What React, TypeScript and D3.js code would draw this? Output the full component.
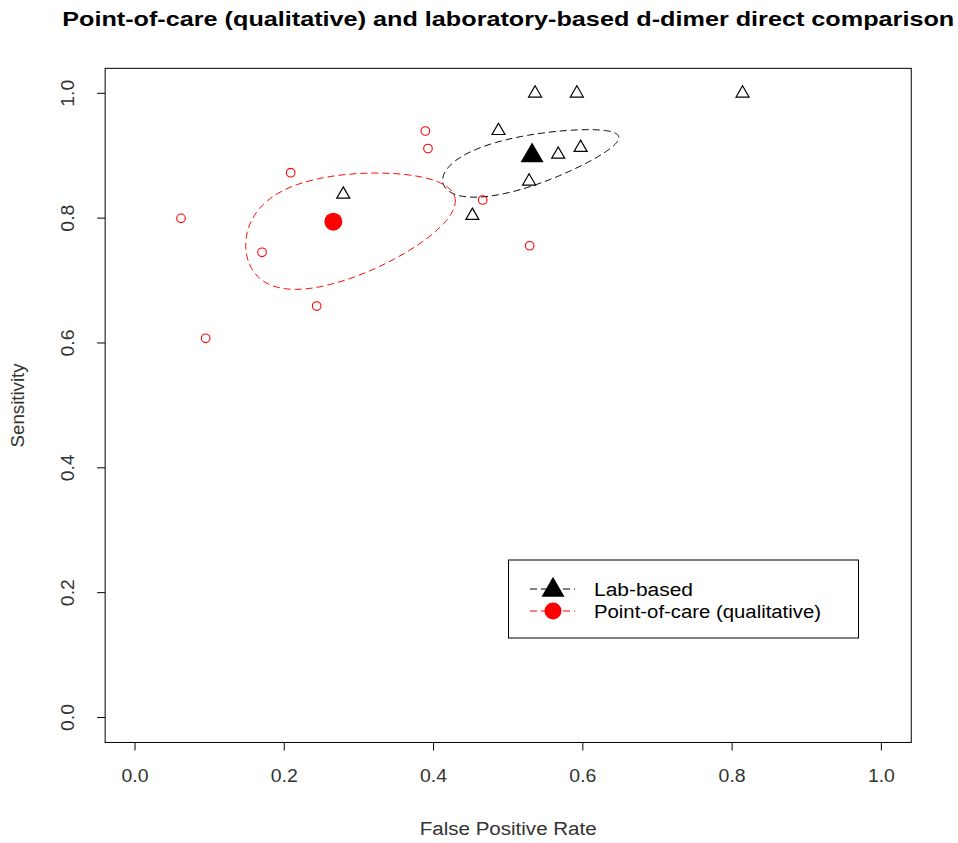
import React from "react";
import * as d3 from "d3";

// ---- data ----
const labFPR = [0.536, 0.592, 0.814, 0.487, 0.567, 0.597, 0.528, 0.452, 0.279];
const labSens = [1.0, 1.0, 1.0, 0.94, 0.902, 0.913, 0.859, 0.804, 0.838];
const pocFPR = [0.389, 0.3925, 0.2086, 0.0616, 0.1702, 0.2434, 0.0947, 0.4658, 0.5288];
const pocSens = [0.9396, 0.9116, 0.8728, 0.7997, 0.7453, 0.6592, 0.6075, 0.8291, 0.7558];
const labSummary = [0.532, 0.9];
const pocSummary = [0.2657, 0.7943];
// confidence regions in logit space: [half-extent logit FPR, half-extent logit Sens, correlation]
const labRegion = [0.483, 0.586, 0.64];
const pocRegion = [0.731, 0.57, 0.38];
const xTicks = [0, 0.2, 0.4, 0.6, 0.8, 1.0];
const yTicks = [0, 0.2, 0.4, 0.6, 0.8, 1.0];
const legendLabels = ["Lab-based", "Point-of-care (qualitative)"];
const legendWidths = [99, 227];

const W = 958;
const H = 843;
const FONT = "'Liberation Sans', Arial, sans-serif";

const x = d3.scaleLinear().domain([0, 1]).range([135, 881.4]);
const y = d3.scaleLinear().domain([0, 1]).range([717.5, 93.3]);
const box = { x0: x(-0.04), x1: x(1.04), y0: y(1.04), y1: y(-0.04) };

const logit = (p: number) => Math.log(p / (1 - p));
const expit = (v: number) => 1 / (1 + Math.exp(-v));

function regionPath(center: number[], reg: number[]) {
  const [sx, sy, rho] = reg;
  const cx = logit(center[0]);
  const cy = logit(center[1]);
  const n = 240;
  const pts: [number, number][] = d3.range(n + 1).map((i) => {
    const t = (i / n) * 2 * Math.PI;
    const lx = cx + sx * Math.cos(t);
    const ly = cy + sy * (rho * Math.cos(t) + Math.sqrt(1 - rho * rho) * Math.sin(t));
    return [x(expit(lx)), y(expit(ly))];
  });
  return d3.line()(pts) as string;
}

function tri(cx: number, cy: number, s: number) {
  const h = (s * Math.sqrt(3)) / 2;
  return `M${cx},${cy - (2 * h) / 3}L${cx + s / 2},${cy + h / 3}L${cx - s / 2},${cy + h / 3}Z`;
}

export default function App() {
  const lgX0 = 508.5;
  const lgY0 = 560;
  return (
    <svg width={W} height={H} style={{ display: "block", position: "absolute", left: 0, top: 0 }} fontFamily={FONT}>
      <rect x={0} y={0} width={W} height={H} fill="white" />
      <text
        x={(box.x0 + box.x1) / 2}
        y={26}
        textAnchor="middle"
        fontWeight="bold"
        fontSize={21}
        fill="#000"
        textLength={892}
        lengthAdjust="spacingAndGlyphs"
      >
        Point-of-care (qualitative) and laboratory-based d-dimer direct comparison
      </text>
      <rect x={box.x0} y={box.y0} width={box.x1 - box.x0} height={box.y1 - box.y0} fill="none" stroke="#000" strokeWidth={1} />
      {/* x axis */}
      <g>
        {xTicks.map((t) => (
          <g key={"x" + t}>
            <line x1={x(t)} x2={x(t)} y1={box.y1} y2={box.y1 + 8} stroke="#000" />
            <text x={x(t)} y={782} textAnchor="middle" fontSize={18} fill="#333" textLength={27} lengthAdjust="spacingAndGlyphs">
              {t.toFixed(1)}
            </text>
          </g>
        ))}
        <text
          x={(box.x0 + box.x1) / 2}
          y={835}
          textAnchor="middle"
          fontSize={18}
          fill="#333"
          textLength={177}
          lengthAdjust="spacingAndGlyphs"
        >
          False Positive Rate
        </text>
      </g>
      {/* y axis */}
      <g>
        {yTicks.map((t) => (
          <g key={"y" + t}>
            <line x1={box.x0} x2={box.x0 - 8} y1={y(t)} y2={y(t)} stroke="#000" />
            <text
              transform={`translate(74,${y(t)}) rotate(-90)`}
              textAnchor="middle"
              fontSize={18}
              fill="#333"
              textLength={27}
              lengthAdjust="spacingAndGlyphs"
            >
              {t.toFixed(1)}
            </text>
          </g>
        ))}
        <text
          transform={`translate(24,${(box.y0 + box.y1) / 2}) rotate(-90)`}
          textAnchor="middle"
          fontSize={18}
          fill="#333"
          textLength={84}
          lengthAdjust="spacingAndGlyphs"
        >
          Sensitivity
        </text>
      </g>
      {/* confidence regions */}
      <path d={regionPath(pocSummary, pocRegion)} fill="none" stroke="#ff0000" strokeWidth={1} strokeDasharray="7,4" />
      <path d={regionPath(labSummary, labRegion)} fill="none" stroke="#000" strokeWidth={1} strokeDasharray="7,4" />
      {/* study points */}
      {pocFPR.map((f, i) => (
        <circle key={"p" + i} cx={x(f)} cy={y(pocSens[i])} r={4.3} fill="none" stroke="#ff0000" strokeWidth={1.1} />
      ))}
      {labFPR.map((f, i) => (
        <path key={"l" + i} d={tri(x(f), y(labSens[i]), 13)} fill="none" stroke="#000" strokeWidth={1.2} />
      ))}
      {/* summary points */}
      <path d={tri(x(labSummary[0]), y(labSummary[1]), 23)} fill="#000" />
      <circle cx={x(pocSummary[0])} cy={y(pocSummary[1])} r={9} fill="#ff0000" />
      {/* legend */}
      <g>
        <rect x={lgX0} y={lgY0} width={350} height={78} fill="white" stroke="#000" />
        {legendLabels.map((lab, i) => {
          const cy = 589 + i * 22;
          const col = i === 0 ? "#000" : "#ff0000";
          return (
            <g key={lab}>
              <line x1={530} x2={575} y1={cy} y2={cy} stroke={col} strokeDasharray="7,4" />
              {i === 0 ? (
                <path d={tri(553, cy + 1, 23)} fill="#000" />
              ) : (
                <circle cx={553} cy={cy} r={8.5} fill="#ff0000" />
              )}
              <text
                x={594}
                y={cy + 6.5}
                fontSize={18}
                fill="#000"
                textLength={legendWidths[i]}
                lengthAdjust="spacingAndGlyphs"
              >
                {lab}
              </text>
            </g>
          );
        })}
      </g>
    </svg>
  );
}
